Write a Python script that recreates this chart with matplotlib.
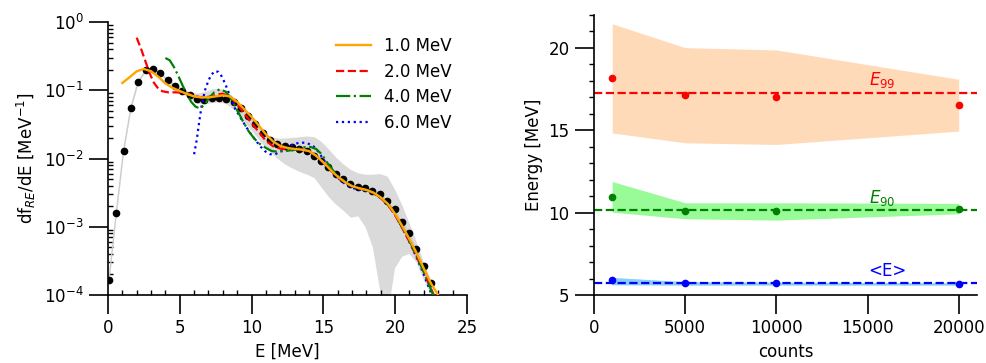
import numpy as np
import matplotlib
matplotlib.use("Agg")
import matplotlib.pyplot as plt
from matplotlib.ticker import MultipleLocator, LogLocator, NullFormatter

plt.rcParams['font.family'] = ['DejaVu Sans']
plt.rcParams['font.size'] = 12

# ---- left panel: spectrum (values stored as log10 of df/dE) ----
E_bins = [0.07, 0.58, 1.09, 1.60, 2.11, 2.63, 3.14, 3.65, 4.16, 4.67, 5.18, 5.69,
          6.20, 6.71, 7.23, 7.74, 8.25, 8.76, 9.25, 9.76, 10.27, 10.78, 11.29, 11.80,
          12.31, 12.83, 13.34, 13.85, 14.36, 14.85, 15.36, 15.87, 16.38, 16.89, 17.40,
          17.91, 18.42, 18.94, 19.45, 19.96, 20.47, 20.98, 21.47, 21.98, 22.49]
log_f_median = [-3.78, -2.795, -1.883, -1.254, -0.873, -0.707, -0.688, -0.746, -0.854,
                -0.941, -1.010, -1.073, -1.127, -1.137, -1.117, -1.107, -1.127, -1.171,
                -1.259, -1.376, -1.498, -1.624, -1.732, -1.790, -1.820, -1.834, -1.854,
                -1.888, -1.956, -2.034, -2.122, -2.220, -2.307, -2.376, -2.415, -2.439,
                -2.473, -2.527, -2.620, -2.746, -2.927, -3.098, -3.332, -3.576, -3.820]
log_f_low = [-3.80, -2.81, -1.90, -1.27, -0.89, -0.72, -0.70, -0.76, -0.875, -0.97,
             -1.05, -1.12, -1.19, -1.20, -1.18, -1.17, -1.20, -1.28, -1.39, -1.53,
             -1.66, -1.79, -1.90, -2.00, -2.08, -2.14, -2.19, -2.23, -2.28, -2.42,
             -2.56, -2.67, -2.76, -2.86, -2.84, -3.00, -3.30, -3.95, -4.30, -3.60,
             -3.43, -3.39, -3.52, -3.78, -3.98]
log_f_high = [-3.76, -2.78, -1.87, -1.24, -0.86, -0.69, -0.675, -0.73, -0.83, -0.91,
              -0.97, -1.02, -1.04, -1.02, -0.98, -0.97, -1.00, -1.10, -1.22, -1.36,
              -1.48, -1.60, -1.68, -1.70, -1.70, -1.69, -1.68, -1.67, -1.68, -1.75,
              -1.86, -1.98, -2.08, -2.16, -2.21, -2.23, -2.23, -2.22, -2.26, -2.45,
              -2.68, -2.95, -3.22, -3.52, -3.80]

E_1mev = [1.0, 1.5, 2.0, 2.5, 3.0, 3.5, 4.0, 4.5, 5.0, 5.5, 6.0, 6.5, 7.0, 7.5, 8.0,
          8.5, 9.0, 9.5, 10.0, 10.5, 11.0, 11.5, 12.0, 12.5, 13.0, 13.5, 14.0, 14.5,
          15.0, 15.5, 16.0, 16.5, 17.0, 17.5, 18.0, 18.5, 19.0, 19.5, 20.0, 20.5, 21.0,
          21.5, 22.0, 22.5, 23.0]
log_f_1mev = [-0.893, -0.81, -0.722, -0.688, -0.72, -0.80, -0.90, -0.965, -1.01, -1.055,
              -1.09, -1.105, -1.105, -1.09, -1.075, -1.09, -1.17, -1.28, -1.39, -1.515,
              -1.645, -1.75, -1.815, -1.845, -1.86, -1.87, -1.89, -1.96, -2.055, -2.165,
              -2.265, -2.345, -2.405, -2.435, -2.46, -2.50, -2.57, -2.665, -2.81, -2.99,
              -3.18, -3.385, -3.61, -3.83, -4.0]

E_2mev = [2.0, 2.3, 2.6, 2.9, 3.2, 3.5, 3.8, 4.2, 4.7, 5.2, 5.7, 6.2, 6.7, 7.2, 7.6,
          8.0, 8.4, 8.8, 9.2, 9.6, 10.0, 10.5, 11.0, 11.5, 12.0, 12.5, 13.0, 13.5,
          14.0, 14.5, 15.0, 15.5, 16.0, 16.5, 17.0, 17.5, 18.0, 18.5, 19.0, 19.5,
          20.0, 20.5, 21.0, 21.5, 22.0, 22.4, 22.7]
log_f_2mev = [-0.229, -0.39, -0.57, -0.75, -0.89, -0.975, -1.015, -1.03, -1.03, -1.035,
              -1.06, -1.095, -1.105, -1.09, -1.06, -1.05, -1.085, -1.16, -1.26, -1.37,
              -1.478, -1.61, -1.74, -1.82, -1.855, -1.865, -1.865, -1.865, -1.895,
              -1.955, -2.06, -2.17, -2.27, -2.35, -2.41, -2.44, -2.465, -2.51, -2.58,
              -2.68, -2.83, -3.02, -3.22, -3.44, -3.66, -3.86, -4.0]

E_4mev = [4.0, 4.3, 4.6, 4.9, 5.2, 5.5, 5.8, 6.1, 6.4, 6.7, 7.0, 7.4, 7.8, 8.2, 8.6,
          9.0, 9.4, 9.8, 10.2, 10.6, 11.0, 11.4, 11.8, 12.4, 13.0, 13.6, 14.1, 14.5,
          14.9, 15.3, 15.7, 16.2, 16.7, 17.2, 17.7, 18.2, 18.7, 19.2, 19.7, 20.2,
          20.7, 21.2, 21.7, 22.2, 22.65]
log_f_4mev = [-0.527, -0.56, -0.66, -0.79, -0.93, -1.06, -1.17, -1.24, -1.265, -1.22,
              -1.12, -1.03, -0.985, -1.02, -1.13, -1.29, -1.455, -1.60, -1.71, -1.79,
              -1.845, -1.89, -1.90, -1.89, -1.87, -1.835, -1.83, -1.86, -1.94, -2.07,
              -2.18, -2.29, -2.37, -2.42, -2.45, -2.475, -2.53, -2.61, -2.72, -2.89,
              -3.08, -3.29, -3.52, -3.76, -4.0]

E_6mev = [6.0, 6.18, 6.37, 6.55, 6.76, 7.0, 7.23, 7.46, 7.69, 7.92, 8.16, 8.39, 8.62,
          8.85, 9.2, 9.55, 9.9, 10.25, 10.6, 10.94, 11.29, 11.64, 11.99, 12.45, 12.92,
          13.38, 13.85, 14.31, 14.66, 15.01, 15.5, 16.0, 16.5, 17.0, 17.5, 18.0, 18.5,
          19.0, 19.5, 20.0, 20.5, 21.0, 21.5, 22.0, 22.5]
log_f_6mev = [-1.937, -1.732, -1.439, -1.195, -1.0, -0.854, -0.766, -0.717, -0.732,
              -0.795, -0.902, -1.024, -1.146, -1.268, -1.39, -1.512, -1.624, -1.722,
              -1.82, -1.893, -1.937, -1.937, -1.902, -1.839, -1.79, -1.766, -1.771,
              -1.82, -1.902, -2.015, -2.16, -2.28, -2.37, -2.43, -2.455, -2.47, -2.505,
              -2.57, -2.67, -2.82, -3.01, -3.22, -3.45, -3.70, -3.97]

# ---- right panel: energy estimates vs counts ----
counts = [1000, 5000, 10000, 20000]
E99 = [18.18, 17.13, 17.01, 16.52]
E99_low = [14.84, 14.24, 14.14, 14.95]
E99_high = [21.47, 20.02, 19.88, 18.10]
E99_ref = 17.29
E90 = [10.96, 10.11, 10.11, 10.24]
E90_low = [10.03, 9.63, 9.55, 9.93]
E90_high = [11.89, 10.60, 10.60, 10.56]
E90_ref = 10.15
Emean = [5.91, 5.71, 5.71, 5.67]
Emean_low = [5.62, 5.60, 5.60, 5.60]
Emean_high = [6.07, 5.81, 5.78, 5.74]
Emean_ref = 5.73

fig = plt.figure(figsize=(9.86, 3.63), dpi=100)
ax1 = fig.add_axes([0.1095, 0.1873, 0.364, 0.752])
ax2 = fig.add_axes([0.6024, 0.1873, 0.3884, 0.7713])

ax1.fill_between(E_bins, 10 ** np.array(log_f_low), 10 ** np.array(log_f_high),
                 color='#dadada', lw=0, zorder=1)
ax1.plot(E_bins, 10 ** np.array(log_f_median), color='#cccccc', lw=1, zorder=2)
ax1.plot(E_bins, 10 ** np.array(log_f_median), 'o', color='black', ms=4.5, zorder=3)
ax1.plot(E_1mev, 10 ** np.array(log_f_1mev), '-', color='orange', lw=1.7, label='1.0 MeV', zorder=6)
ax1.plot(E_2mev, 10 ** np.array(log_f_2mev), '--', color='red', lw=1.6, label='2.0 MeV', zorder=5)
ax1.plot(E_4mev, 10 ** np.array(log_f_4mev), '-.', color='green', lw=1.6, label='4.0 MeV', zorder=5)
ax1.plot(E_6mev, 10 ** np.array(log_f_6mev), ':', color='blue', lw=1.6, label='6.0 MeV', zorder=4)

ax1.set_yscale('log')
ax1.set_xlim(0, 25)
ax1.set_ylim(1e-4, 1)
ax1.set_xlabel('E [MeV]')
ax1.set_ylabel(r'df$_{RE}$/dE [MeV$^{-1}$]')
ax1.xaxis.set_major_locator(MultipleLocator(5))
ax1.xaxis.set_minor_locator(MultipleLocator(1))
ax1.yaxis.set_major_locator(LogLocator(base=10, numticks=10))
ax1.yaxis.set_minor_locator(LogLocator(base=10, subs=np.arange(2, 10), numticks=10))
ax1.yaxis.set_minor_formatter(NullFormatter())
ax1.tick_params(which='major', direction='out', length=14, width=1.2, labelsize=12)
ax1.tick_params(which='minor', direction='in', length=3.5, width=1.0)
ax1.legend(loc='upper right', frameon=False, fontsize=12, labelspacing=0.45,
           handlelength=2.1)

ax2.fill_between(counts, E99_low, E99_high, color='peachpuff', lw=0)
ax2.fill_between(counts, E90_low, E90_high, color='palegreen', lw=0)
ax2.fill_between(counts, Emean_low, Emean_high, color='lightskyblue', lw=0)
ax2.axhline(E99_ref, color='red', ls='--', lw=1.6)
ax2.axhline(E90_ref, color='green', ls='--', lw=1.6)
ax2.axhline(Emean_ref, color='blue', ls='--', lw=1.6)
ax2.plot(counts, E99, 'o', color='red', ms=4.5)
ax2.plot(counts, E90, 'o', color='green', ms=4.5)
ax2.plot(counts, Emean, 'o', color='blue', ms=4.5)
ax2.text(15800, 18.03, r'$E_{99}$', color='red', ha='center', va='center', fontsize=12)
ax2.text(15800, 10.88, r'$E_{90}$', color='green', ha='center', va='center', fontsize=12)
ax2.text(16100, 6.47, '<E>', color='blue', ha='center', va='center', fontsize=12)

ax2.set_xlim(0, 21000)
ax2.set_ylim(5, 22)
ax2.set_xlabel('counts')
ax2.set_ylabel('Energy [MeV]')
ax2.xaxis.set_major_locator(MultipleLocator(5000))
ax2.yaxis.set_major_locator(MultipleLocator(5))
ax2.yaxis.set_minor_locator(MultipleLocator(1))
ax2.tick_params(which='major', direction='out', length=14, width=1.2, labelsize=12)
ax2.tick_params(axis='y', which='minor', direction='out', length=3.5, width=1.0)

for ax in (ax1, ax2):
    ax.spines['top'].set_visible(False)
    ax.spines['right'].set_visible(False)
    ax.spines['left'].set_linewidth(1.2)
    ax.spines['bottom'].set_linewidth(1.2)

fig.savefig('out.png', dpi=100)
